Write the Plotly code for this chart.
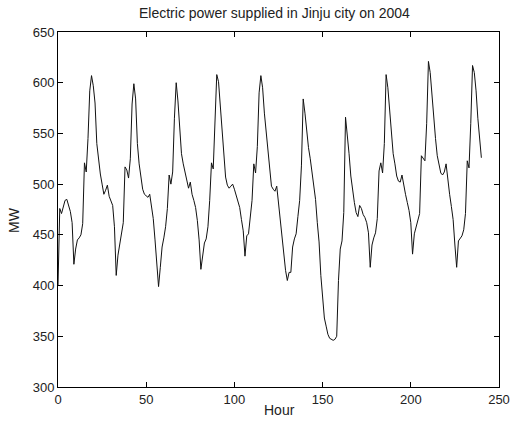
import plotly.graph_objects as go

# Hourly electric power (MW), hours 0..240
power_mw = [
    400, 476, 471, 478, 484, 485, 479, 473, 462, 421, 436, 445,
    447, 450, 461, 521, 512, 545, 592, 607, 597, 580, 540, 522,
    510, 500, 490, 494, 499, 488, 484, 479, 458, 410, 430, 441,
    448, 462, 517, 514, 506, 525, 579, 599, 584, 540, 520, 506,
    495, 490, 488, 487, 490, 480, 466, 445, 418, 399, 418, 438,
    447, 458, 476, 509, 500, 512, 565, 600, 582, 550, 530, 520,
    512, 503, 496, 502, 490, 484, 477, 464, 445, 416, 431, 442,
    446, 458, 484, 521, 515, 562, 608, 601, 578, 553, 525, 507,
    499, 496, 498, 500, 495, 488, 482, 477, 465, 454, 429, 449,
    451, 471, 484, 520, 511, 537, 590, 607, 595, 570, 552, 530,
    512, 498, 495, 493, 498, 480, 467, 450, 430, 415, 405, 413,
    413, 438, 446, 451, 468, 484, 518, 584, 570, 552, 536, 525,
    513, 500, 485, 462, 443, 410, 385, 368, 360, 352, 348, 347,
    346, 347, 350, 405, 436, 444, 472, 566, 550, 530, 508, 492,
    482, 472, 468, 479, 476, 470, 467, 462, 452, 418, 440, 447,
    452, 466, 513, 521, 511, 540, 608, 595, 570, 549, 530, 520,
    508, 503, 502, 509, 497, 490, 482, 474, 462, 431, 451, 458,
    465, 471, 528, 525, 523, 560, 621, 610, 585, 565, 545, 528,
    518, 511, 509, 512, 520, 503, 490, 478, 465, 440, 418, 444,
    447, 449, 455, 471, 523, 516, 560, 617, 610, 592, 565, 548,
    526,
]
hours = list(range(len(power_mw)))

x_ticks = [0, 50, 100, 150, 200, 250]
y_ticks = [300, 350, 400, 450, 500, 550, 600, 650]

title_text = "Electric power supplied in Jinju city on 2004"
x_label = "Hour"
y_label = "MW"

font_family = "Liberation Sans, Arial, sans-serif"
txt_color = "#222222"
fsize = 14
tsize = 13
W, H = 511, 422
ML, MR, MT, MB = 58, 12, 32, 35

fig = go.Figure()
fig.add_trace(go.Scatter(
    x=hours, y=power_mw, mode="lines",
    line=dict(color="#111111", width=1),
    showlegend=False,
))

axis_common = dict(
    showgrid=False, zeroline=False, automargin=False,
    showline=True, linecolor="black", linewidth=1,
    mirror="ticks", ticks="inside", ticklen=5, tickwidth=1, tickcolor="black",
    ticklabeloverflow="allow",
    tickfont=dict(family=font_family, size=tsize, color=txt_color),
)

pw = W - ML - MR
ph = H - MT - MB

fig.update_layout(
    width=W, height=H,
    margin=dict(l=ML, r=MR, t=MT, b=MB, autoexpand=False),
    paper_bgcolor="white", plot_bgcolor="white",
    title=dict(text=title_text, x=0.537, xanchor="center", y=1 - 13 / H,
               yanchor="middle", yref="container",
               font=dict(family=font_family, size=fsize, color=txt_color)),
    xaxis=dict(range=[0, 250], tickvals=x_ticks, **axis_common),
    yaxis=dict(range=[300, 650], tickvals=y_ticks, **axis_common),
    annotations=[
        dict(text=x_label, xref="paper", yref="paper",
             x=(279 - ML) / pw, y=-(410 - (H - MB)) / ph,
             xanchor="center", yanchor="middle", showarrow=False,
             font=dict(family=font_family, size=fsize, color=txt_color)),
        dict(text=y_label, xref="paper", yref="paper",
             x=-(ML - 14) / pw, y=((H - MB) - 220) / ph,
             xanchor="center", yanchor="middle", showarrow=False, textangle=-90,
             font=dict(family=font_family, size=fsize, color=txt_color)),
    ],
)

fig.write_html("out.html")
